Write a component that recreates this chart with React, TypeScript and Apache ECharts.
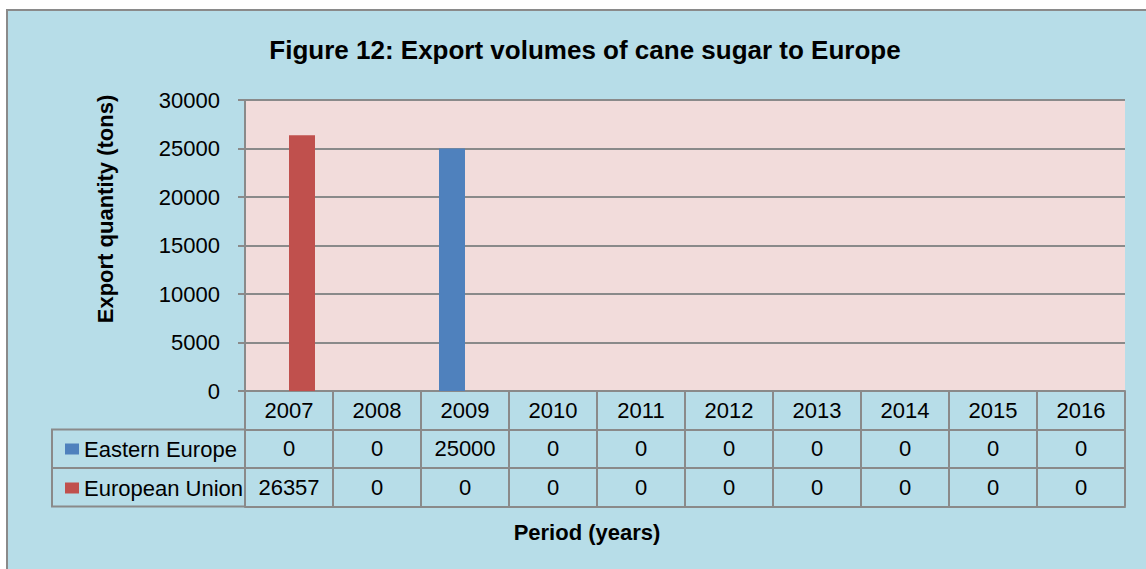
import React, { useEffect, useRef } from "react";
import * as echarts from "echarts";

const title = "Figure 12: Export volumes of cane sugar to Europe";
const yAxisTitle = "Export quantity (tons)";
const xAxisTitle = "Period (years)";
const years = ["2007", "2008", "2009", "2010", "2011", "2012", "2013", "2014", "2015", "2016"];
const seriesNames = ["Eastern Europe", "European Union"];
const easternEurope = [0, 0, 25000, 0, 0, 0, 0, 0, 0, 0];
const europeanUnion = [26357, 0, 0, 0, 0, 0, 0, 0, 0, 0];
const yMin = 0;
const yMax = 30000;
const yInterval = 5000;

const FONT = "'Liberation Sans', Arial, sans-serif";
const GRAY = "#8a8a8a";
const BLUE = "#4f81bd";
const RED = "#c0504d";

export default function App() {
  const ref = useRef<HTMLDivElement>(null);
  useEffect(() => {
    if (!ref.current) return;
    const chart = echarts.init(ref.current, undefined, { renderer: "svg" });
    const rowH = 38.5;
    const tableAxis = (data: string[], offset: number, showLabel: boolean, showTick: boolean) => ({
      type: "category",
      gridIndex: 0,
      position: "bottom",
      offset,
      data,
      axisLine: { show: true, lineStyle: { color: GRAY, width: 2 } },
      axisTick: { show: showTick, length: rowH, interval: 0, alignWithLabel: false, lineStyle: { color: GRAY, width: 2 } },
      axisLabel: { show: showLabel, interval: 0, margin: 8, fontSize: 22, fontFamily: FONT, color: "#000" },
      splitLine: { show: false },
    });
    chart.setOption({
      animation: false,
      backgroundColor: "transparent",
      textStyle: { fontFamily: FONT, color: "#000" },
      title: {
        text: title,
        left: 580,
        textAlign: "center",
        top: 32,
        textStyle: { fontSize: 26, fontWeight: "bold", fontFamily: FONT, color: "#000" },
      },
      legend: {
        orient: "vertical",
        left: 60,
        top: 431,
        icon: "rect",
        itemWidth: 14,
        itemHeight: 11,
        itemGap: 13,
        data: seriesNames,
        textStyle: { fontSize: 22, lineHeight: 26, fontFamily: FONT, color: "#000" },
        selectedMode: false,
      },
      grid: {
        left: 245,
        right: 21,
        top: 100,
        bottom: 178,
        show: true,
        backgroundColor: "#f2dcdb",
        borderWidth: 0,
      },
      xAxis: [
        tableAxis(years, 0, true, true),
        tableAxis(easternEurope.map(String), rowH, true, true),
        tableAxis(europeanUnion.map(String), rowH * 2, true, true),
        tableAxis(years.map(() => ""), rowH * 3, false, false),
      ],
      yAxis: {
        type: "value",
        min: yMin,
        max: yMax,
        interval: yInterval,
        axisLine: { show: true, lineStyle: { color: GRAY, width: 2 } },
        axisTick: { show: true, length: 7, lineStyle: { color: GRAY, width: 2 } },
        axisLabel: { margin: 25, fontSize: 22, fontFamily: FONT, color: "#000", formatter: (v: number) => String(v) },
        splitLine: { show: true, lineStyle: { color: GRAY, width: 2 } },
      },
      series: [
        {
          name: seriesNames[0],
          type: "bar",
          xAxisIndex: 0,
          data: easternEurope,
          barWidth: 26,
          barGap: "0%",
          itemStyle: { color: BLUE },
        },
        {
          name: seriesNames[1],
          type: "bar",
          xAxisIndex: 0,
          data: europeanUnion,
          barWidth: 26,
          barGap: "0%",
          itemStyle: { color: RED },
        },
      ],
      graphic: [
        {
          type: "rect",
          shape: { x: 52, y: 391 + rowH, width: 193, height: rowH * 2 },
          style: { fill: "none", stroke: GRAY, lineWidth: 2 },
          silent: true,
        },
        {
          type: "line",
          shape: { x1: 52, y1: 391 + rowH * 2, x2: 245, y2: 391 + rowH * 2 },
          style: { stroke: GRAY, lineWidth: 2 },
          silent: true,
        },
        {
          type: "text",
          x: 105,
          y: 209,
          rotation: Math.PI / 2,
          style: {
            text: yAxisTitle,
            fontSize: 22,
            fontWeight: "bold",
            fontFamily: FONT,
            fill: "#000",
            align: "center",
            verticalAlign: "middle",
          },
        },
        {
          type: "text",
          x: 587,
          y: 532,
          style: {
            text: xAxisTitle,
            fontSize: 22,
            fontWeight: "bold",
            fontFamily: FONT,
            fill: "#000",
            align: "center",
            verticalAlign: "middle",
          },
        },
      ],
    });
    return () => chart.dispose();
  }, []);
  return (
    <div style={{ position: "absolute", left: 0, top: 0, width: 1146, height: 569, overflow: "hidden", background: "#fff" }}>
      <div
        style={{
          position: "absolute",
          left: 6,
          top: 9,
          width: 1200,
          height: 600,
          background: "#b7dde8",
          border: `2px solid ${GRAY}`,
        }}
      />
      <div ref={ref} style={{ position: "absolute", left: 0, top: 0, width: 1146, height: 569 }} />
    </div>
  );
}
